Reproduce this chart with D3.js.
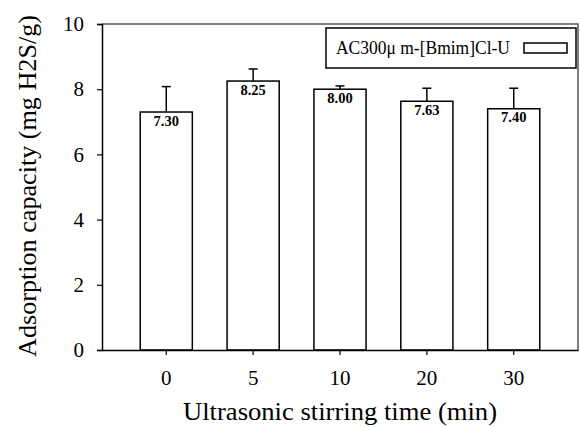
<!DOCTYPE html>
<html>
<head>
<meta charset="utf-8">
<script src="https://cdn.jsdelivr.net/npm/d3@7"></script>
<style>
  body { margin: 0; background: #fff; }
  svg text { font-family: "Liberation Serif", "Times New Roman", serif; fill: #000; }
</style>
</head>
<body>
<div id="chart"></div>
<script>
// data
var categories = ["0", "5", "10", "20", "30"];
var values = [7.30, 8.25, 8.00, 7.63, 7.40];
var errors = [0.78, 0.37, 0.10, 0.40, 0.63];
var valueLabels = ["7.30", "8.25", "8.00", "7.63", "7.40"];
var yTicks = [0, 2, 4, 6, 8, 10];
var seriesName = "AC300\u03bc m-[Bmim]Cl-U";

var W = 580, H = 427;
var margin = {top: 24, right: 2, bottom: 77, left: 102};
var width = W - margin.left - margin.right,
    height = H - margin.top - margin.bottom;

var svg = d3.select("#chart").append("svg")
    .attr("width", W).attr("height", H)
  .append("g")
    .attr("transform", "translate(" + margin.left + "," + margin.top + ")");

var x = d3.scaleBand()
    .domain(categories)
    .range([0, width])
    .paddingInner(0.4)
    .paddingOuter(0.44);

var y = d3.scaleLinear()
    .domain([0, 10])
    .range([height, 0]);

// frame (top and right)
svg.append("path")
    .attr("d", "M0,0H" + width + "V" + height)
    .attr("fill", "none")
    .attr("stroke", "#555")
    .attr("stroke-width", 1.5);

// bars
svg.selectAll(".bar")
  .data(values)
  .enter().append("rect")
    .attr("x", function(d, i) { return x(categories[i]); })
    .attr("y", function(d) { return y(d); })
    .attr("width", x.bandwidth())
    .attr("height", function(d) { return height - y(d); })
    .attr("fill", "#fff")
    .attr("stroke", "#000")
    .attr("stroke-width", 1.5);

// error bars (upper only)
var cap = 4.5;
var eb = svg.selectAll(".err")
  .data(values)
  .enter().append("g");
eb.append("line")
    .attr("x1", function(d, i) { return x(categories[i]) + x.bandwidth() / 2; })
    .attr("x2", function(d, i) { return x(categories[i]) + x.bandwidth() / 2; })
    .attr("y1", function(d) { return y(d); })
    .attr("y2", function(d, i) { return y(d + errors[i]); })
    .attr("stroke", "#000").attr("stroke-width", 1.5);
eb.append("line")
    .attr("x1", function(d, i) { return x(categories[i]) + x.bandwidth() / 2 - cap; })
    .attr("x2", function(d, i) { return x(categories[i]) + x.bandwidth() / 2 + cap; })
    .attr("y1", function(d, i) { return y(d + errors[i]); })
    .attr("y2", function(d, i) { return y(d + errors[i]); })
    .attr("stroke", "#000").attr("stroke-width", 1.5);

// value labels
svg.selectAll(".vlab")
  .data(values)
  .enter().append("text")
    .attr("x", function(d, i) { return x(categories[i]) + x.bandwidth() / 2; })
    .attr("y", function(d) { return y(d) + 13.5; })
    .attr("text-anchor", "middle")
    .style("font-size", "14.5px")
    .style("font-weight", "bold")
    .text(function(d, i) { return valueLabels[i]; });

// axes
var yAxis = svg.append("g")
    .call(d3.axisLeft(y).tickValues(yTicks).tickSize(5).tickPadding(13));
var xAxis = svg.append("g")
    .attr("transform", "translate(0," + height + ")")
    .call(d3.axisBottom(x).tickSize(5).tickPadding(15).tickSizeOuter(0));
[yAxis, xAxis].forEach(function(a) {
  a.select(".domain").attr("stroke", "#000").attr("stroke-width", 1.5);
  a.selectAll(".tick line").attr("stroke", "#000").attr("stroke-width", 1.2);
  a.selectAll("text").style("font-size", "21px")
    .style("font-family", "'Liberation Serif', serif");
});

// axis titles
svg.append("text")
    .attr("transform", "translate(" + (-66) + "," + (height / 2 - 1) + ") rotate(-90)")
    .attr("text-anchor", "middle")
    .attr("textLength", 342)
    .attr("lengthAdjust", "spacingAndGlyphs")
    .style("font-size", "25px")
    .text("Adsorption capacity (mg H2S/g)");
svg.append("text")
    .attr("x", width / 2)
    .attr("y", height + 70)
    .attr("text-anchor", "middle")
    .attr("textLength", 314)
    .attr("lengthAdjust", "spacingAndGlyphs")
    .style("font-size", "26px")
    .text("Ultrasonic stirring time (min)");

// legend
var lg = svg.append("g").attr("transform", "translate(" + (width - 252) + ",4)");
lg.append("rect")
    .attr("width", 250).attr("height", 40)
    .attr("fill", "#fff").attr("stroke", "#000").attr("stroke-width", 1.5);
lg.append("text")
    .attr("x", 10).attr("y", 26)
    .attr("textLength", 174)
    .attr("lengthAdjust", "spacingAndGlyphs")
    .style("font-size", "18px")
    .text(seriesName);
lg.append("rect")
    .attr("x", 198).attr("y", 15)
    .attr("width", 43).attr("height", 10)
    .attr("fill", "#fff").attr("stroke", "#000").attr("stroke-width", 1.5);
</script>
</body>
</html>
